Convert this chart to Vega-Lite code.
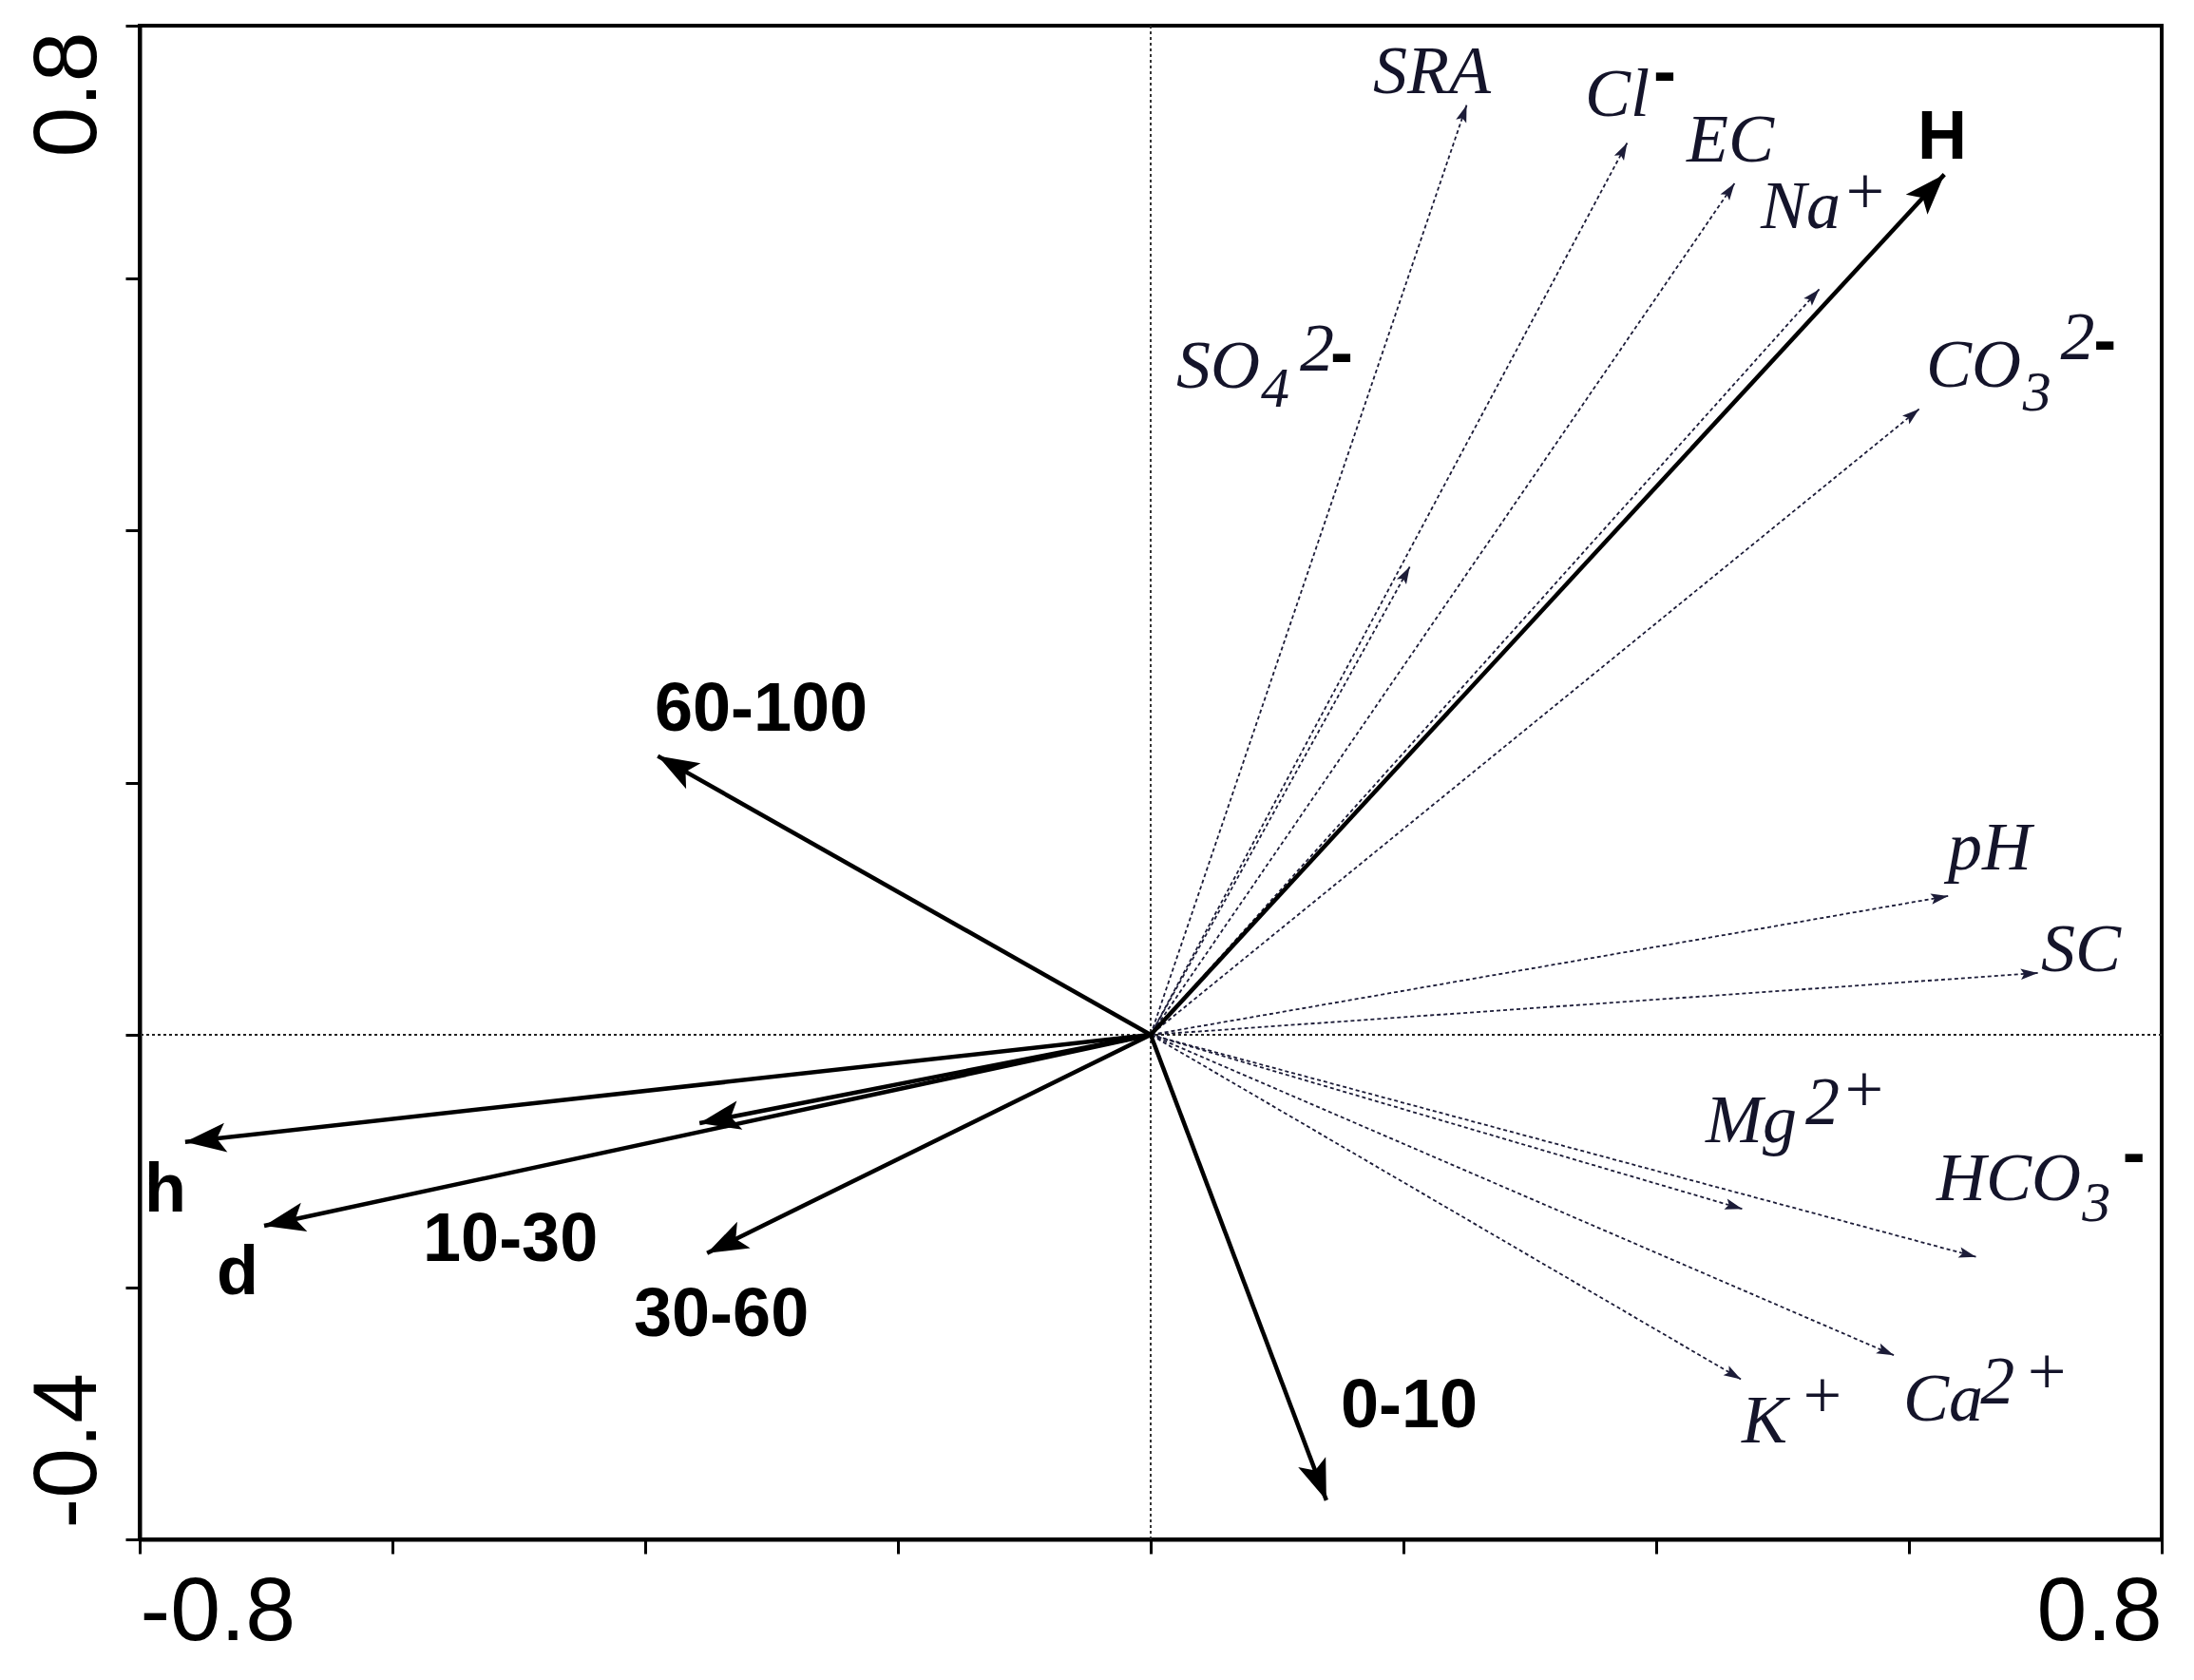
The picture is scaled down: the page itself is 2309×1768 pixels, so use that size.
{
  "$schema": "https://vega.github.io/schema/vega-lite/v6.json",
  "width": 2128,
  "height": 1593,
  "autosize": {"type": "none"},
  "padding": {"left": 147, "top": 27, "right": 34, "bottom": 148},
  "background": "white",
  "config": {
    "view": {"stroke": "#000", "strokeWidth": 4},
    "axis": {"grid": false, "title": null}
  },
  "datasets": {
    "arrows": [
      {"id": "H", "x": 0.628, "y": 0.682, "k": "s"},
      {"id": "60-100", "x": -0.390, "y": 0.221, "k": "s"},
      {"id": "h", "x": -0.764, "y": -0.085, "k": "s"},
      {"id": "d", "x": -0.7015, "y": -0.1514, "k": "s"},
      {"id": "10-30", "x": -0.357, "y": -0.070, "k": "s"},
      {"id": "30-60", "x": -0.351, "y": -0.173, "k": "s"},
      {"id": "0-10", "x": 0.139, "y": -0.369, "k": "s"},
      {"id": "SRA", "x": 0.250, "y": 0.737, "k": "v"},
      {"id": "Cl", "x": 0.377, "y": 0.707, "k": "v"},
      {"id": "EC", "x": 0.462, "y": 0.675, "k": "v"},
      {"id": "Na", "x": 0.529, "y": 0.591, "k": "v"},
      {"id": "CO3", "x": 0.608, "y": 0.496, "k": "v"},
      {"id": "SO4", "x": 0.205, "y": 0.371, "k": "v"},
      {"id": "pH", "x": 0.631, "y": 0.110, "k": "v"},
      {"id": "SC", "x": 0.702, "y": 0.049, "k": "v"},
      {"id": "Mg", "x": 0.468, "y": -0.138, "k": "v"},
      {"id": "HCO3", "x": 0.653, "y": -0.176, "k": "v"},
      {"id": "Ca", "x": 0.588, "y": -0.254, "k": "v"},
      {"id": "K", "x": 0.467, "y": -0.273, "k": "v"}
    ],
    "ital": [
      {"t": "SRA", "x": 0.1759, "y": 0.7465},
      {"t": "Cl", "x": 0.3436, "y": 0.7284},
      {"t": "EC", "x": 0.4241, "y": 0.6923},
      {"t": "Na", "x": 0.4827, "y": 0.6395},
      {"t": "+", "x": 0.5466, "y": 0.6512},
      {"t": "SO", "x": 0.0203, "y": 0.5130},
      {"t": "2", "x": 0.1180, "y": 0.5265},
      {"t": "CO", "x": 0.6135, "y": 0.5137},
      {"t": "2", "x": 0.7200, "y": 0.5356},
      {"t": "pH", "x": 0.6308, "y": 0.1311},
      {"t": "SC", "x": 0.7045, "y": 0.0505},
      {"t": "Mg", "x": 0.4391, "y": -0.0851},
      {"t": "2", "x": 0.5180, "y": -0.0708},
      {"t": "+", "x": 0.5459, "y": -0.0610},
      {"t": "HCO", "x": 0.6218, "y": -0.1311},
      {"t": "K", "x": 0.4677, "y": -0.3232},
      {"t": "+", "x": 0.5128, "y": -0.3036},
      {"t": "Ca", "x": 0.5955, "y": -0.3058},
      {"t": "2", "x": 0.6565, "y": -0.2923},
      {"t": "+", "x": 0.6905, "y": -0.2847}
    ],
    "subs": [
      {"t": "4", "x": 0.0872, "y": 0.4979},
      {"t": "3", "x": 0.6900, "y": 0.4949},
      {"t": "3", "x": 0.7370, "y": -0.1476}
    ],
    "bold": [
      {"t": "H", "x": 0.6068, "y": 0.6945},
      {"t": "60-100", "x": -0.3925, "y": 0.2411},
      {"t": "h", "x": -0.7962, "y": -0.1401},
      {"t": "d", "x": -0.7391, "y": -0.2056},
      {"t": "10-30", "x": -0.5759, "y": -0.1793},
      {"t": "30-60", "x": -0.4090, "y": -0.2388},
      {"t": "0-10", "x": 0.1504, "y": -0.3111},
      {"t": "-", "x": 0.3977, "y": 0.7454},
      {"t": "-", "x": 0.1421, "y": 0.5228},
      {"t": "-", "x": 0.7460, "y": 0.5326},
      {"t": "-", "x": 0.7690, "y": -0.1115}
    ]
  },
  "layer": [
    {
      "data": {"name": "arrows"},
      "transform": [{"filter": "datum.k == 'v'"}],
      "mark": {"type": "rule", "color": "#1c1c38", "strokeWidth": 1.8, "strokeDash": [4, 3]},
      "encoding": {
        "x": {
          "field": "x", "type": "quantitative",
          "scale": {"domain": [-0.8, 0.8], "nice": false, "zero": false},
          "axis": {
            "values": [-0.8, -0.6, -0.4, -0.2, 0, 0.2, 0.4, 0.6, 0.8],
            "labelExpr": "abs(datum.value) > 0.79 ? (datum.value < 0 ? '-0.8' : '0.8') : ''",
            "labelAlign": {"expr": "datum.value < 0 ? 'left' : 'right'"},
            "labelFont": "Liberation Sans", "labelFontSize": 95, "labelColor": "#000",
            "labelBaseline": "top", "labelPadding": 15, "labelOverlap": false, "labelBound": false, "labelFlush": false,
            "tickSize": 15, "tickWidth": 3, "tickColor": "#000",
            "domainColor": "#000", "domainWidth": 4
          }
        },
        "x2": {"datum": 0},
        "y": {
          "field": "y", "type": "quantitative",
          "scale": {"domain": [-0.4, 0.8], "nice": false, "zero": false},
          "axis": {
            "values": [-0.4, -0.2, 0, 0.2, 0.4, 0.6, 0.8],
            "labelExpr": "datum.value > 0.79 ? '0.8' : (datum.value < -0.39 ? '-0.4' : '')",
            "labelAngle": 270,
            "labelAlign": {"expr": "datum.value > 0 ? 'right' : 'left'"},
            "labelOffset": {"expr": "datum.value > 0 ? 6 : -12"},
            "labelFont": "Liberation Sans", "labelFontSize": 95, "labelColor": "#000",
            "labelBaseline": "alphabetic", "labelPadding": 32, "labelOverlap": false, "labelBound": false, "labelFlush": false,
            "tickSize": 15, "tickWidth": 3, "tickColor": "#000",
            "domainColor": "#000", "domainWidth": 4
          }
        },
        "y2": {"datum": 0}
      }
    },
    {
      "data": {"values": [{}]},
      "mark": {"type": "rule", "color": "#222", "strokeWidth": 1.8, "strokeDash": [3, 3]},
      "encoding": {
        "x": {"datum": 0, "type": "quantitative"}
      }
    },
    {
      "data": {"values": [{}]},
      "mark": {"type": "rule", "color": "#222", "strokeWidth": 1.8, "strokeDash": [3, 3]},
      "encoding": {
        "y": {"datum": 0, "type": "quantitative"}
      }
    },
    {
      "data": {"name": "arrows"},
      "transform": [
        {"filter": "datum.k == 'v'"},
        {"calculate": "atan2(datum.x, datum.y) * 180 / PI", "as": "ang"}
      ],
      "mark": {"type": "point", "shape": "M0,0 L0.32,1 L0,0.8 L-0.32,1 Z", "size": 1300, "filled": true, "color": "#1c1c38", "opacity": 1, "strokeWidth": 0},
      "encoding": {
        "x": {"field": "x", "type": "quantitative"},
        "y": {"field": "y", "type": "quantitative"},
        "angle": {"field": "ang", "type": "quantitative", "scale": null}
      }
    },
    {
      "data": {"name": "arrows"},
      "transform": [{"filter": "datum.k == 's'"}],
      "mark": {"type": "rule", "color": "#000", "strokeWidth": 4.5},
      "encoding": {
        "x": {"field": "x", "type": "quantitative"},
        "x2": {"datum": 0},
        "y": {"field": "y", "type": "quantitative"},
        "y2": {"datum": 0}
      }
    },
    {
      "data": {"name": "arrows"},
      "transform": [
        {"filter": "datum.k == 's'"},
        {"calculate": "atan2(datum.x, datum.y) * 180 / PI", "as": "ang"}
      ],
      "mark": {"type": "point", "shape": "M0,0 L0.36,1 L0,0.78 L-0.36,1 Z", "size": 7400, "filled": true, "color": "#000", "opacity": 1, "strokeWidth": 0},
      "encoding": {
        "x": {"field": "x", "type": "quantitative"},
        "y": {"field": "y", "type": "quantitative"},
        "angle": {"field": "ang", "type": "quantitative", "scale": null}
      }
    },
    {
      "data": {"name": "ital"},
      "mark": {"type": "text", "font": "Liberation Serif", "fontStyle": "italic", "fontSize": 72, "align": "left", "baseline": "alphabetic", "color": "#14142a"},
      "encoding": {
        "x": {"field": "x", "type": "quantitative"},
        "y": {"field": "y", "type": "quantitative"},
        "text": {"field": "t"}
      }
    },
    {
      "data": {"name": "subs"},
      "mark": {"type": "text", "font": "Liberation Serif", "fontStyle": "italic", "fontSize": 60, "align": "left", "baseline": "alphabetic", "color": "#14142a"},
      "encoding": {
        "x": {"field": "x", "type": "quantitative"},
        "y": {"field": "y", "type": "quantitative"},
        "text": {"field": "t"}
      }
    },
    {
      "data": {"name": "bold"},
      "mark": {"type": "text", "font": "Liberation Sans", "fontWeight": "bold", "fontSize": 72, "align": "left", "baseline": "alphabetic", "color": "#000"},
      "encoding": {
        "x": {"field": "x", "type": "quantitative"},
        "y": {"field": "y", "type": "quantitative"},
        "text": {"field": "t"}
      }
    }
  ]
}
